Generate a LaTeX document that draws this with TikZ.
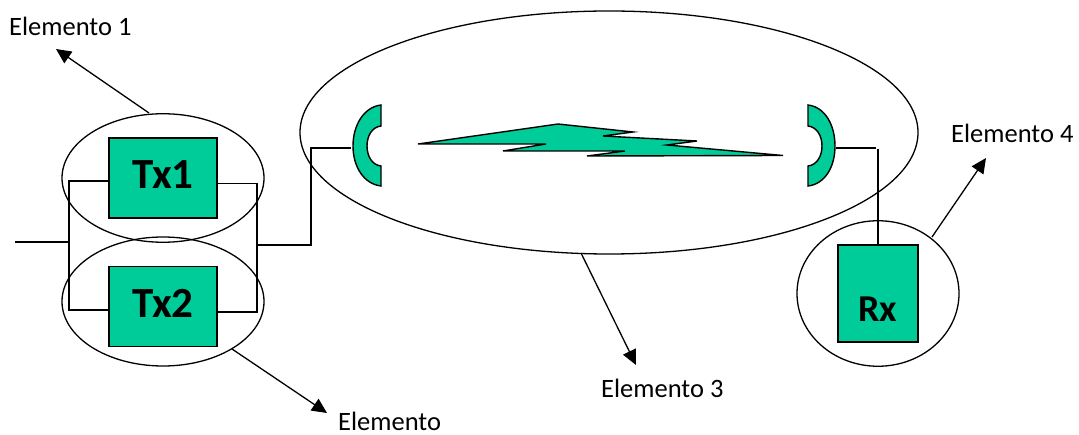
\documentclass[tikz,border=0pt]{standalone}
\usepackage{fontspec}
\setmainfont{Carlito}
\usetikzlibrary{arrows.meta,shapes.geometric}
\definecolor{teal}{RGB}{0,204,153}
\tikzset{
  txbox/.style={draw=black,line width=1.3pt,fill=teal,minimum width=108pt,minimum height=80pt,inner sep=0pt},
  rxbox/.style={draw=black,line width=1.3pt,fill=teal,minimum width=80pt,minimum height=97pt,inner sep=0pt},
  txtext/.style={inner sep=0pt,anchor=base,font=\bfseries\fontsize{43}{43}\selectfont},
  rxtext/.style={inner sep=0pt,anchor=base,font=\bfseries\fontsize{38}{38}\selectfont},
  oval/.style={draw=black,line width=1.3pt,ellipse,inner sep=0pt},
  wire/.style={draw=black,line width=1.2pt},
  pointer/.style={draw=black,line width=1.3pt,-{Triangle[length=15pt,width=14pt]}},
  lbl/.style={inner sep=0pt,font=\fontsize{26.5}{26.5}\selectfont},
  greenshape/.style={draw=black,line width=1.4pt,fill=teal,line join=miter}
}
\begin{document}
\begin{tikzpicture}[x=1pt,y=-1pt]
\useasboundingbox (0,0) rectangle (1079,435);
% boxes
\node[txbox] (tx1) at (163,178) {};
\node[txbox] (tx2) at (163,306.5) {};
\node[rxbox] (rx) at (878,293.5) {};
\node[txtext] (tx1t) at (163,188.7) {Tx1};
\node[txtext] (tx2t) at (163,318) {Tx2};
\node[rxtext] (rxt) at (878,322) {Rx};
% ellipses
\node[oval,minimum width=202pt,minimum height=128.5pt] (e1) at (163,178) {};
\node[oval,minimum width=202pt,minimum height=129pt] (e2) at (163,301.5) {};
\node[oval,minimum width=618pt,minimum height=243pt] (e3) at (609,132.5) {};
\node[oval,minimum width=162pt,minimum height=145.5pt] (e4) at (878,293.5) {};
% dishes
\draw[greenshape] (381,105) .. controls (364,107) and (353,125) .. (353,146)
  .. controls (353,167) and (364,184) .. (381,186) -- (381,166)
  .. controls (372,165) and (367,156) .. (367,146)
  .. controls (367,136) and (372,127) .. (381,126) -- cycle;
\draw[greenshape] (808,105) .. controls (825,107) and (835,125) .. (835,146)
  .. controls (835,167) and (825,184) .. (808,186) -- (808,166)
  .. controls (817,165) and (822,156) .. (822,146)
  .. controls (822,136) and (817,127) .. (808,126) -- cycle;
% bolt
\draw[greenshape] (418,144) -- (558,124) -- (633,132) -- (603,136) -- (697,141)
  -- (667,145) -- (783,155.5) -- (587,156) -- (625,151) -- (503,151) -- (546,144) -- cycle;
% named wire points
\coordinate (inL) at (15,242);
\coordinate (busL) at (69,242);
\coordinate (busLt) at (69,181);
\coordinate (busLb) at (69,310);
\coordinate (t1l) at (108.5,181);
\coordinate (t2l) at (108.5,310);
\coordinate (t1r) at (217.5,183.5);
\coordinate (t2r) at (217.5,312);
\coordinate (busRt) at (257,183.5);
\coordinate (busRb) at (257,312);
\coordinate (busR) at (258,245);
\coordinate (up) at (311,245);
\coordinate (upT) at (311,148);
\coordinate (dishL) at (351,148);
\coordinate (dishR) at (836,148);
\coordinate (rxT) at (876,148);
\coordinate (rxB) at (878,245);
\coordinate (rxV) at (878,149);
% wires
\draw[wire] (inL) -- (busL);
\draw[wire] (t1l) -- (busLt) -- (busLb) -- (t2l);
\draw[wire] (t1r) -- (busRt) -- (busRb) -- (t2r);
\draw[wire] (busR) -- (up) -- (upT) -- (dishL);
\draw[wire] (dishR) -- (rxT);
\draw[wire] (rxV) -- (rxB);
% labels
\node[lbl,anchor=base west] (l1) at (9,36) {Elemento 1};
\node[lbl,anchor=base west] (l2) at (338,430) {Elemento};
\node[lbl,anchor=base west] (l3) at (601,398) {Elemento 3};
\node[lbl,anchor=base west] (l4) at (951,142.7) {Elemento 4};
% pointers
\coordinate (a1s) at (149,113);
\coordinate (a1e) at (56,49);
\coordinate (a2s) at (232,349);
\coordinate (a2e) at (327,413);
\coordinate (a3s) at (581,253);
\coordinate (a3e) at (636,365);
\coordinate (a4s) at (932,237);
\coordinate (a4e) at (986,158);
\draw[pointer] (a1s) -- (a1e);
\draw[pointer] (a2s) -- (a2e);
\draw[pointer] (a3s) -- (a3e);
\draw[pointer] (a4s) -- (a4e);
\end{tikzpicture}
\end{document}
